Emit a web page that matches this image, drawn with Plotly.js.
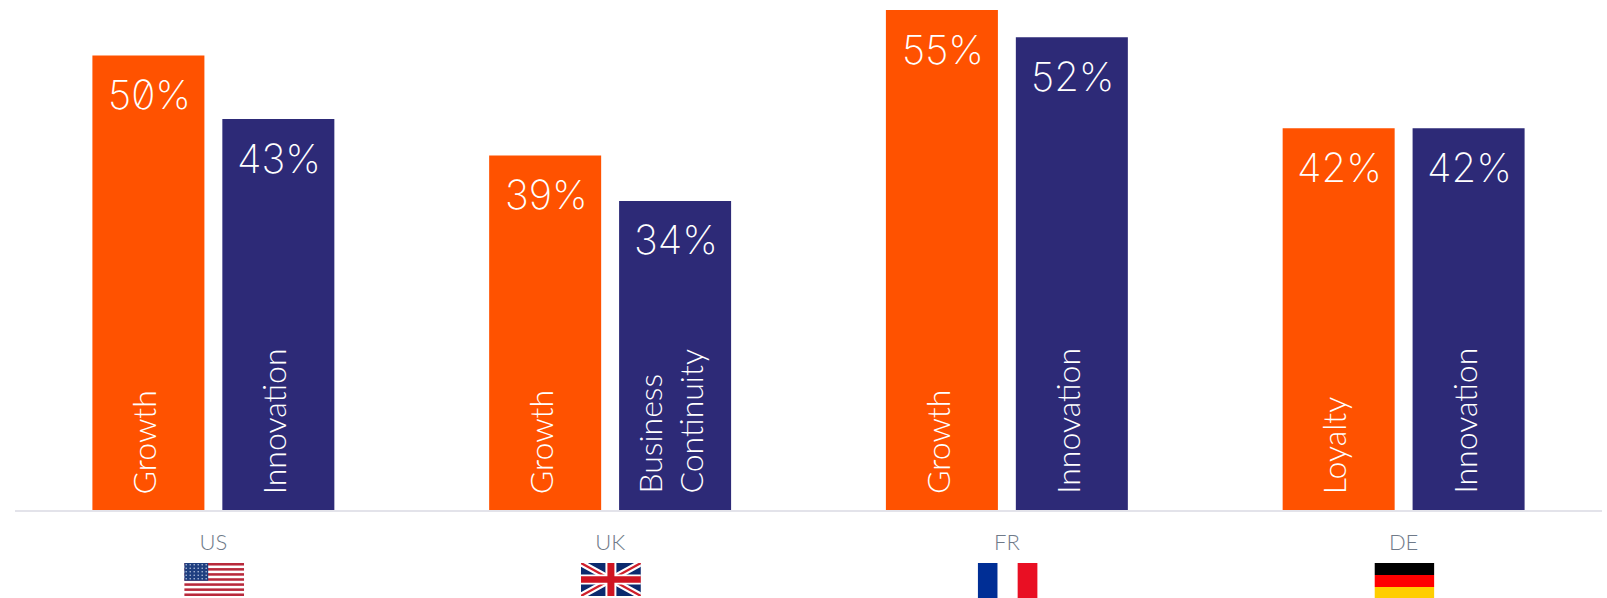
<!DOCTYPE html>
<html>
<head>
<meta charset="utf-8">
<script src="https://cdn.plot.ly/plotly-3.0.1.min.js"></script>
<style>
html,body{margin:0;padding:0;background:#fff}
#chart{width:1607px;height:598px}
.annotation-text{font-feature-settings:"zero" 1}
</style>
</head>
<body>
<div id="chart"></div>
<script>
const countries = ['US', 'UK', 'FR', 'DE'];
const firstValues = [50, 39, 55, 42];
const secondValues = [43, 34, 52, 42];
const firstNames = ['Growth', 'Growth', 'Growth', 'Loyalty'];
const secondNames = ['Innovation', 'Business<br>Continuity', 'Innovation', 'Innovation'];

const ORANGE = '#FF5200';
const NAVY = '#2D2A77';
const BAR_GAP = 0.345;
const PLOT_HEIGHT = 510;
const slot = (1 - BAR_GAP) / 2;

// Flag artwork, stretched into each image slot
function svgUrl(body) {
  return 'data:image/svg+xml;charset=utf-8,' + encodeURIComponent(
    '<svg xmlns="http://www.w3.org/2000/svg" viewBox="0 0 60 36" width="240" height="144" preserveAspectRatio="none">' + body + '</svg>');
}
function usFlag() {
  let s = '<rect width="60" height="36" fill="#fff"/>';
  for (let i = 0; i < 7; i++) s += `<rect y="${(i * 2 * 36 / 13).toFixed(2)}" width="60" height="${(36 / 13).toFixed(2)}" fill="#B8293B"/>`;
  s += '<rect width="24" height="19.4" fill="#1F3F80"/>';
  for (let r = 0; r < 5; r++) for (let c = 0; c < 6; c++) s += `<circle cx="${2 + c * 4}" cy="${2 + r * 3.8}" r="0.8" fill="#B9C6E0"/>`;
  return svgUrl(s);
}
function ukFlag() {
  return svgUrl('<rect width="60" height="36" fill="#0B2A6E"/>' +
    '<path d="M0 0L60 36M60 0L0 36" stroke="#fff" stroke-width="7"/>' +
    '<path d="M0 0L60 36M60 0L0 36" stroke="#CF1F2B" stroke-width="2.4"/>' +
    '<path d="M30 0V36M0 18H60" stroke="#fff" stroke-width="11"/>' +
    '<path d="M30 0V36M0 18H60" stroke="#CF1421" stroke-width="7"/>');
}
function frFlag() {
  return svgUrl('<rect width="20" height="36" fill="#002E95"/><rect x="20" width="20" height="36" fill="#fff"/><rect x="40" width="20" height="36" fill="#E90F23"/>');
}
function deFlag() {
  return svgUrl('<rect width="60" height="12" fill="#000"/><rect y="12" width="60" height="12" fill="#F00"/><rect y="24" width="60" height="12" fill="#FFCE00"/>');
}
const flags = [usFlag(), ukFlag(), frFlag(), deFlag()];
const flagHeights = [33, 33, 36, 36];

const traces = [
  {type: 'bar', x: countries, y: firstValues, marker: {color: ORANGE}, hoverinfo: 'x+y'},
  {type: 'bar', x: countries, y: secondValues, marker: {color: NAVY}, hoverinfo: 'x+y'}
];

const annotations = [];
function addLabels(values, names, offset) {
  values.forEach((v, i) => {
    annotations.push({
      x: i + offset, y: v, xref: 'x', yref: 'y', yshift: -39, xshift: 1, yanchor: 'middle', xanchor: 'center',
      showarrow: false, text: v + '%',
      font: {family: 'Inter, sans-serif', size: 40, color: '#fff', weight: 150}
    });
    annotations.push({
      x: i + offset, y: 0, xref: 'x', yref: 'y', yshift: 14, xshift: -5, yanchor: 'bottom', xanchor: 'center',
      showarrow: false, text: names[i], textangle: -90, align: 'left',
      font: {family: 'Lato, sans-serif', size: 32, color: '#fff', weight: 300}
    });
  });
}
addLabels(firstValues, firstNames, -slot / 2);
addLabels(secondValues, secondNames, slot / 2);

const images = flags.map((src, i) => ({
  source: src, xref: 'x', yref: 'paper', x: i + 0.002, y: -53 / PLOT_HEIGHT,
  sizex: 0.151, sizey: flagHeights[i] / PLOT_HEIGHT,
  xanchor: 'center', yanchor: 'top', sizing: 'stretch', layer: 'above'
}));

const layout = {
  width: 1607, height: 598,
  margin: {l: 14.5, r: 4.5, t: 0, b: 88},
  paper_bgcolor: '#fff', plot_bgcolor: '#fff',
  showlegend: false,
  barmode: 'group', bargap: BAR_GAP, bargroupgap: 0.138,
  xaxis: {
    type: 'category', categoryorder: 'array', categoryarray: countries,
    showgrid: false, zeroline: false, showline: true, linecolor: '#E3E3EA', linewidth: 2,
    ticks: '', ticklabelstandoff: 12,
    tickfont: {family: 'Lato, sans-serif', size: 22, color: '#6F7A89', weight: 300}
  },
  yaxis: {range: [0, 56.1], visible: false, fixedrange: true},
  annotations, images
};

Plotly.newPlot('chart', traces, layout, {displayModeBar: false, staticPlot: true});
</script>
</body>
</html>
